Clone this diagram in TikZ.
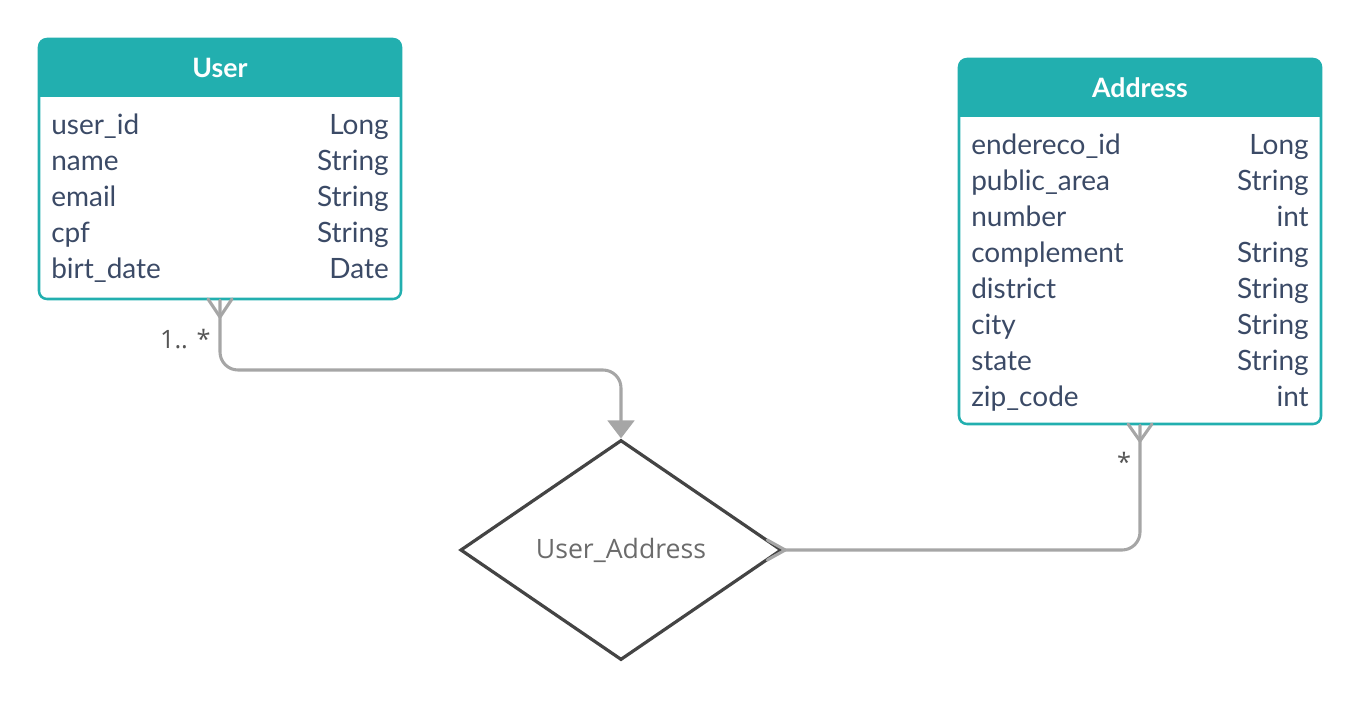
\documentclass[tikz,border=0pt]{standalone}
\usepackage{fontspec}
\setmainfont{Lato}
\newfontfamily\opensans{Open Sans}
\usetikzlibrary{shapes.geometric,arrows.meta,fit,calc}
\definecolor{tealh}{HTML}{22AFAF}
\definecolor{fieldc}{HTML}{3B4A66}
\definecolor{connc}{HTML}{A6A6A6}
\definecolor{diac}{HTML}{444444}
\definecolor{diatext}{HTML}{6B6B6B}
\definecolor{labc}{HTML}{555555}
\tikzset{
  entbox/.style={draw=tealh, line width=1.9pt, rounded corners=6pt, inner sep=0pt},
  hdr/.style={text=white, font=\fontsize{20}{22}\selectfont\bfseries},
  fname/.style={anchor=base west, text=fieldc, font=\fontsize{21}{24}\selectfont, inner sep=0pt},
  ftype/.style={anchor=base east, text=fieldc, font=\fontsize{21}{24}\selectfont, inner sep=0pt},
  conn/.style={draw=connc, line width=2.3pt, line cap=round, line join=round},
  relbox/.style={diamond, draw=diac, line width=2.4pt, fill=white, minimum width=241pt, minimum height=165pt, inner sep=0pt, text=diatext, font=\opensans\fontsize{20}{22}\selectfont},
  mult/.style={text=labc, font=\opensans\fontsize{19}{22}\selectfont, inner sep=0pt}
}
\begin{document}
\begin{tikzpicture}[x=0.75pt,y=-0.75pt]
\useasboundingbox (0,0) rectangle (1360,700);
% ---------- User ----------
\begin{scope}
  \clip[rounded corners=6pt] (39,39) rectangle (401,299);
  \fill[tealh] (39,39) rectangle (401,97);
\end{scope}
\node[entbox, fit={(39,39)(401,299)}] (user) {};
\node[hdr] (userT) at (220,68) {User};
\node[fname] (u1) at (51,134) {user\_id};   \node[ftype] (u1t) at (389,134) {Long};
\node[fname] (u2) at (51,170) {name};       \node[ftype] (u2t) at (389,170) {String};
\node[fname] (u3) at (51,206) {email};      \node[ftype] (u3t) at (389,206) {String};
\node[fname] (u4) at (51,242) {cpf};        \node[ftype] (u4t) at (389,242) {String};
\node[fname] (u5) at (51,278) {birt\_date}; \node[ftype] (u5t) at (389,278) {Date};
% ---------- Address ----------
\begin{scope}
  \clip[rounded corners=6pt] (959,59) rectangle (1321,424);
  \fill[tealh] (959,59) rectangle (1321,117);
\end{scope}
\node[entbox, fit={(959,59)(1321,424)}] (addr) {};
\node[hdr] (addrT) at (1140,88) {Address};
\node[fname] (a1) at (971,154) {endereco\_id};  \node[ftype] (a1t) at (1309,154) {Long};
\node[fname] (a2) at (971,190) {public\_area};  \node[ftype] (a2t) at (1309,190) {String};
\node[fname] (a3) at (971,226) {number};        \node[ftype] (a3t) at (1309,226) {int};
\node[fname] (a4) at (971,262) {complement};    \node[ftype] (a4t) at (1309,262) {String};
\node[fname] (a5) at (971,298) {district};      \node[ftype] (a5t) at (1309,298) {String};
\node[fname] (a6) at (971,334) {city};          \node[ftype] (a6t) at (1309,334) {String};
\node[fname] (a7) at (971,370) {state};         \node[ftype] (a7t) at (1309,370) {String};
\node[fname] (a8) at (971,406) {zip\_code};     \node[ftype] (a8t) at (1309,406) {int};
% ---------- Relationship ----------
\node[relbox] (rel) at (621,550) {User\_Address};
% ---------- Connectors ----------
\draw[conn, rounded corners=13.5pt, -{Triangle[length=13.5pt,width=20pt]}]
  (user.south) -- (220,370) -- (rel.north |- 0,370) -- (rel.north);
\draw[conn] (208,299) -- (220,317) -- (232,299);
\node[mult, anchor=base east] (m1) at (211,348) {1.. *};
\draw[conn, rounded corners=13.5pt]
  (rel.east) -- (rel.east -| addr.south) -- (addr.south);
\draw[conn] (1128,424) -- (1140,441) -- (1152,424);
\draw[conn] ($(rel.east)+(-16,-10)$) -- ($(rel.east)+(2,0)$) -- ($(rel.east)+(-16,10)$);
\node[mult] (m2) at (1124,462) {*};
\end{tikzpicture}
\end{document}
